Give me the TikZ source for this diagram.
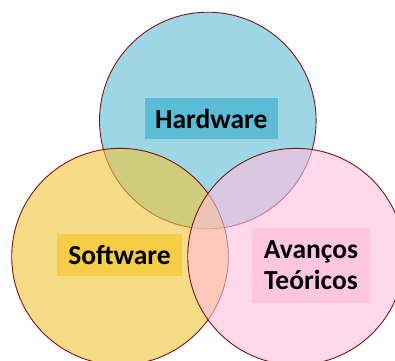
\documentclass[tikz,border=0pt]{standalone}
\usepackage{fontspec}
\setmainfont{Carlito}
\definecolor{blueC}{RGB}{91,188,214}
\definecolor{yellowC}{RGB}{242,197,55}
\definecolor{pinkC}{RGB}{255,190,222}
\definecolor{edgeC}{RGB}{128,20,20}
\definecolor{blueBox}{RGB}{91,188,215}
\definecolor{yellowBox}{RGB}{245,205,71}
\definecolor{pinkBox}{RGB}{255,198,224}
\tikzset{
  venn/.style={circle, draw=edgeC, line width=0.9pt, minimum size=216.6pt, inner sep=0pt, fill opacity=0.6},
  lbl/.style={inner sep=0pt, font=\fontsize{27.5}{31}\selectfont\bfseries, text=black, align=center}
}
\begin{document}
\begin{tikzpicture}[x=1pt,y=-1pt]
\useasboundingbox (0,0) rectangle (395,360);
\begin{scope}
\clip (0,0) rectangle (395,360);
\node[venn, fill=blueC] (hw) at (207.8,120.5) {};
\node[venn, fill=yellowC] (sw) at (120,256.6) {};
\node[venn, fill=pinkC] (at) at (296,256.6) {};
\end{scope}
\node[lbl, fill=blueBox, minimum width=132.7pt, minimum height=41pt] (hwl) at (211.3,118.8) {Hardware};
\node[lbl, fill=yellowBox, minimum width=124.3pt, minimum height=41.3pt] (swl) at (119.5,255) {Software};
\node[lbl, fill=pinkBox, minimum width=117.3pt, minimum height=74.3pt] (atl) at (311,265.5) {Avanços\\Teóricos};
\end{tikzpicture}
\end{document}
